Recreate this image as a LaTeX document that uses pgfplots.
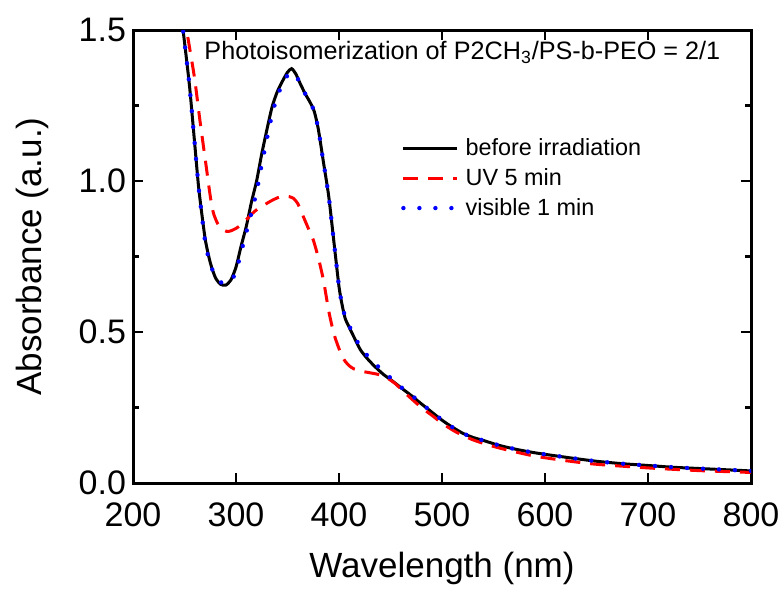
\documentclass[border=0pt]{standalone}
\usepackage{pgfplots}
\pgfplotsset{compat=1.18}
\usepackage{fontspec}
\setmainfont{Liberation Sans}
\begin{document}
\begin{tikzpicture}
\begin{axis}[
  scale only axis,
  width=309pt, height=226.5pt,
  xmin=200, xmax=800, ymin=0, ymax=1.5,
  xtick={200,300,...,800},
  ytick={0,0.5,1.0,1.5},
  minor ytick={0.25,0.75,1.25},
  tick align=inside,
  major tick length=5pt,
  minor tick length=3pt,
  axis line style={line width=1.5pt},
  every tick/.style={line width=1.2pt, black},
  /pgf/number format/assume math mode=true,
  yticklabel style={/pgf/number format/fixed, /pgf/number format/fixed zerofill, /pgf/number format/precision=1},
  xticklabel style={yshift=-6.5pt, /pgf/number format/1000 sep={}},
  tick label style={font=\fontsize{17}{17}\selectfont},
  every axis x label/.style={at={(axis description cs:0.5,-0.188)}, anchor=center},
  every axis y label/.style={at={(axis description cs:-0.163,0.5)}, rotate=90, anchor=center},
  label style={font=\fontsize{17.5}{17.5}\selectfont},
  xlabel={Wavelength (nm)},
  ylabel={Absorbance (a.u.)},
  clip=true,
  legend style={at={(axis cs:460,1.155)}, anchor=north west, draw=none, fill=none,
    font=\fontsize{11.7}{11.7}\selectfont, row sep=0.9pt, inner sep=0pt,
    nodes={inner xsep=3pt}},
  legend image code/.code={\draw[#1] (0pt,0pt) -- (27pt,0pt);},
  legend cell align=left,
]
\addplot[black, line width=1.5pt, smooth, tension=0.4] coordinates {
(245,1.60) (250,1.46) (255,1.31) (260,1.12) (264,0.97) (270,0.81) (275,0.73) (280,0.68)
(285,0.658) (290,0.655) (295,0.672) (300,0.715) (305,0.785) (310,0.85) (315,0.93) (320,1.00)
(325,1.09) (330,1.17) (335,1.245) (340,1.295) (345,1.33) (350,1.36) (354,1.372) (358,1.355)
(362,1.325) (367,1.29) (372,1.26) (376,1.23) (380,1.17) (385,1.06) (390,0.95) (395,0.80)
(400,0.65) (403,0.59) (406,0.545) (410,0.515) (415,0.48) (421,0.44) (428,0.41) (435,0.385)
(443,0.36) (451,0.34) (460,0.316) (470,0.29) (480,0.262) (490,0.235) (500,0.208) (510,0.185)
(520,0.165) (530,0.151) (541,0.140) (555,0.125) (570,0.113) (585,0.103) (600,0.095) (625,0.083)
(650,0.072) (675,0.064) (700,0.058) (725,0.052) (750,0.048) (775,0.044) (800,0.040)
};
\addlegendentry{before irradiation}
\addplot[red, line width=1.5pt, dash pattern=on 7.5pt off 5pt, smooth, tension=0.4] coordinates {
(245,1.64) (250,1.54) (255,1.44) (260,1.335) (265,1.20) (271,1.05) (275,0.95) (278,0.895)
(282,0.86) (286,0.842) (291,0.833) (295,0.835) (300,0.843) (305,0.855) (310,0.872) (316,0.893)
(322,0.91) (328,0.922) (334,0.934) (340,0.944) (346,0.95) (352,0.948) (356,0.942) (360,0.925)
(365,0.885) (370,0.845) (375,0.805) (380,0.745) (385,0.67) (390,0.57) (395,0.495) (400,0.445)
(405,0.408) (410,0.388) (415,0.377) (422,0.37) (430,0.365) (440,0.358) (448,0.345) (455,0.328)
(462,0.305) (470,0.28) (480,0.25) (491,0.222) (500,0.198) (514,0.168) (530,0.143) (547,0.124)
(565,0.108) (590,0.089) (620,0.074) (650,0.062) (700,0.050) (750,0.041) (800,0.035)
};
\addlegendentry{UV 5 min}
\addplot[blue, line width=2.2pt, line cap=round, dash pattern=on 0pt off 8pt, smooth, tension=0.4] coordinates {
(245,1.60) (250,1.46) (255,1.31) (260,1.12) (264,0.97) (270,0.80) (275,0.725) (280,0.685)
(285,0.665) (290,0.66) (295,0.668) (300,0.70) (305,0.765) (310,0.83) (315,0.895) (320,0.965)
(325,1.055) (330,1.14) (335,1.22) (340,1.28) (345,1.32) (350,1.35) (354,1.36) (358,1.35)
(362,1.325) (367,1.29) (372,1.26) (376,1.23) (380,1.17) (385,1.06) (390,0.95) (395,0.80)
(400,0.65) (403,0.59) (406,0.55) (410,0.52) (415,0.485) (421,0.45) (428,0.42) (435,0.395)
(443,0.37) (451,0.345) (460,0.318) (470,0.292) (480,0.263) (490,0.236) (500,0.209) (510,0.185)
(520,0.165) (530,0.151) (541,0.140) (555,0.125) (570,0.113) (585,0.103) (600,0.095) (625,0.083)
(650,0.072) (675,0.064) (700,0.058) (725,0.052) (750,0.048) (775,0.044) (800,0.040)
};
\addlegendentry{visible 1 min}
\node[anchor=west, font=\fontsize{12.6}{12.6}\selectfont, inner sep=0pt] at (axis cs:269,1.425)
  {Photoisomerization of P2CH\textsubscript{3}/PS-b-PEO = 2/1};
\end{axis}
\pgfresetboundingbox
\path ([shift={(-66.5pt,-53.5pt)}]current axis.south west) rectangle ([shift={(14pt,15pt)}]current axis.north east);
\end{tikzpicture}
\end{document}
